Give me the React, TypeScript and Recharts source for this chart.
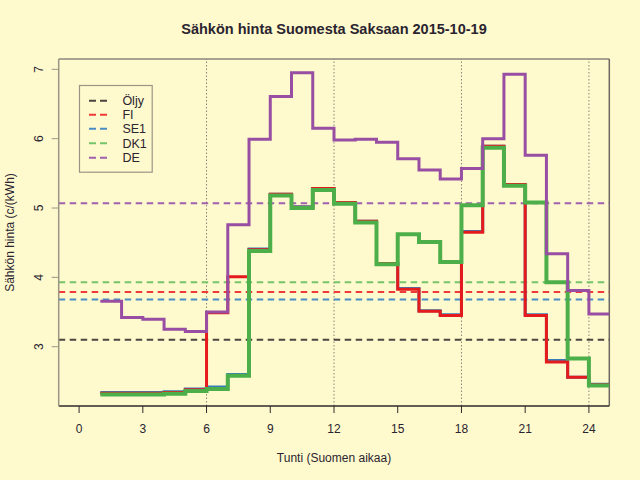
import React from "react";
import { LineChart, Line, XAxis, YAxis, ReferenceLine, Legend } from "recharts";

const hours = [1, 2, 3, 4, 5, 6, 7, 8, 9, 10, 11, 12, 13, 14, 15, 16, 17, 18, 19, 20, 21, 22, 23, 24, 25];
const fiValues = [2.33, 2.33, 2.33, 2.34, 2.38, 3.49, 4.01, 4.40, 5.20, 5.01, 5.28, 5.08, 4.81, 4.20, 3.83, 3.51, 3.45, 4.65, 5.89, 5.34, 3.45, 2.78, 2.56, 2.45];
const se1Values = [2.34, 2.34, 2.34, 2.35, 2.39, 2.42, 2.60, 4.41, 5.20, 5.02, 5.28, 5.08, 4.81, 4.20, 3.84, 3.52, 3.46, 4.66, 5.89, 5.34, 3.46, 2.80, 2.56, 2.46];
const dk1Values = [2.31, 2.31, 2.31, 2.32, 2.36, 2.39, 2.58, 4.38, 5.18, 5.00, 5.26, 5.06, 4.79, 4.19, 4.62, 4.51, 4.22, 5.04, 5.87, 5.32, 5.08, 3.93, 2.83, 2.44];
const deValues = [3.655, 3.42, 3.395, 3.25, 3.22, 3.50, 4.76, 5.99, 6.61, 6.95, 6.15, 5.98, 5.99, 5.95, 5.71, 5.55, 5.42, 5.57, 6.00, 6.93, 5.76, 4.34, 3.81, 3.47];

const legendNames = ["Öljy", "FI", "SE1", "DK1", "DE"];
const averageValues = [3.10, 3.79, 3.68, 3.93, 5.07];
const lineColors = ["#4b4540", "#e41a1c", "#377eb8", "#4daf4a", "#984ea3"];
const dashColors = ["#4b4540", "#f03a3a", "#4a8cc4", "#76c46a", "#a060b0"];

const xTicks = [0, 3, 6, 9, 12, 15, 18, 21, 24];
const yTicks = [3, 4, 5, 6, 7];
const gridHours = [6, 12, 18, 24];
const xDomain = [-0.96, 24.96];
const yDomain = [2.145, 7.149];

const title = "Sähkön hinta Suomesta Saksaan 2015-10-19";
const xLabel = "Tunti (Suomen aikaa)";
const yLabel = "Sähkön hinta (c/(kWh)";

const pad = (arr: number[]) => [...arr, arr[arr.length - 1]];
const fiP = pad(fiValues);
const seP = pad(se1Values);
const dkP = pad(dk1Values);
const deP = pad(deValues);
const data = hours.map((h, i) => ({ h, FI: fiP[i], SE1: seP[i], DK1: dkP[i], DE: deP[i] }));

const FONT = "'Liberation Sans', Arial, Helvetica, sans-serif";
const TEXT = "#2a2430";

const XTick = (props: any) => {
  const { x, y, payload } = props;
  return (
    <text x={x} y={y + 17.5} textAnchor="middle" fontSize={12} fontFamily={FONT} fill={TEXT}>
      {payload.value}
    </text>
  );
};

const YTick = (props: any) => {
  const { y, payload } = props;
  const bx = 43.5;
  return (
    <text x={bx} y={y} transform={`rotate(-90, ${bx}, ${y})`} textAnchor="middle" fontSize={12} fontFamily={FONT} fill={TEXT}>
      {payload.value}
    </text>
  );
};

const LegendBox = () => {
  const rowY = [101, 115, 129, 143.5, 158];
  return (
    <svg width={74} height={88} style={{ overflow: "visible" }}>
      <rect x={0.5} y={0.5} width={72.7} height={86.7} fill="#fffacd" stroke="#9a9486" strokeWidth={1.2} />
      {legendNames.map((n, i) => (
        <g key={n}>
          <line x1={10} x2={30} y1={rowY[i] - 85.3} y2={rowY[i] - 85.3} stroke={dashColors[i]} strokeWidth={2} strokeDasharray="7 4" />
          <text x={43.4} y={rowY[i] - 85.3 + 4.5} fontSize={12.5} fontFamily={FONT} fill={TEXT}>
            {n}
          </text>
        </g>
      ))}
    </svg>
  );
};

export default function App() {
  const seriesKeys = ["FI", "SE1", "DK1", "DE"];
  const widths = [3, 3, 4, 3];
  const drawOrder = [1, 0, 2, 3];
  return (
    <div style={{ position: "absolute", left: 0, top: 0, width: 640, height: 480, background: "#fffacd" }}>
      <div
        style={{
          position: "absolute",
          left: 0,
          width: 668,
          top: 21,
          textAlign: "center",
          fontFamily: FONT,
          fontWeight: "bold",
          fontSize: 14.5,
          color: TEXT,
          lineHeight: "16px",
        }}
      >
        {title}
      </div>
      <LineChart width={640} height={480} data={data} margin={{ top: 59, right: 30.7, left: 0, bottom: 0 }}>
        <XAxis
          dataKey="h"
          type="number"
          domain={xDomain}
          ticks={xTicks}
          allowDataOverflow
          height={74}
          tickSize={7}
          tick={<XTick />}
          axisLine={{ stroke: "#2e2a2a", strokeWidth: 1.5 }}
          tickLine={{ stroke: "#2e2a2a" }}
          label={{
            content: () => (
              <text x={334} y={461.5} textAnchor="middle" fontSize={12} fontFamily={FONT} fill={TEXT}>
                {xLabel}
              </text>
            ),
          }}
        />
        <YAxis
          type="number"
          domain={yDomain}
          ticks={yTicks}
          allowDataOverflow
          width={58.7}
          tickSize={7}
          tick={<YTick />}
          axisLine={{ stroke: "#9a9486", strokeWidth: 1.5 }}
          tickLine={{ stroke: "#9a9486" }}
          label={{
            content: () => (
              <text x={13.5} y={232.5} transform="rotate(-90, 13.5, 232.5)" textAnchor="middle" fontSize={12} fontFamily={FONT} fill={TEXT}>
                {yLabel}
              </text>
            ),
          }}
        />
        <ReferenceLine y={yDomain[1]} stroke="#a8a290" strokeWidth={1.8} />
        <ReferenceLine x={xDomain[1]} stroke="#6e6860" strokeWidth={1.5} />
        {gridHours.map((g) => (
          <ReferenceLine key={"g" + g} x={g} stroke="#8a8478" strokeWidth={1} strokeDasharray="1.5 2" />
        ))}
        {averageValues.map((v, i) => (
          <ReferenceLine key={"a" + i} y={v} stroke={dashColors[i]} strokeWidth={2} strokeDasharray="6.5 4.5" />
        ))}
        {drawOrder.map((k) => (
          <Line
            key={seriesKeys[k]}
            dataKey={seriesKeys[k]}
            type="stepAfter"
            stroke={lineColors[k + 1]}
            strokeWidth={widths[k]}
            dot={false}
            activeDot={false}
            isAnimationActive={false}
            legendType="none"
          />
        ))}
        <Legend
          layout="vertical"
          align="center"
          verticalAlign="middle"
          content={() => <LegendBox />}
          wrapperStyle={{ position: "absolute", left: 79.3, top: 85.3, width: 74, height: 88 }}
        />
      </LineChart>
    </div>
  );
}
